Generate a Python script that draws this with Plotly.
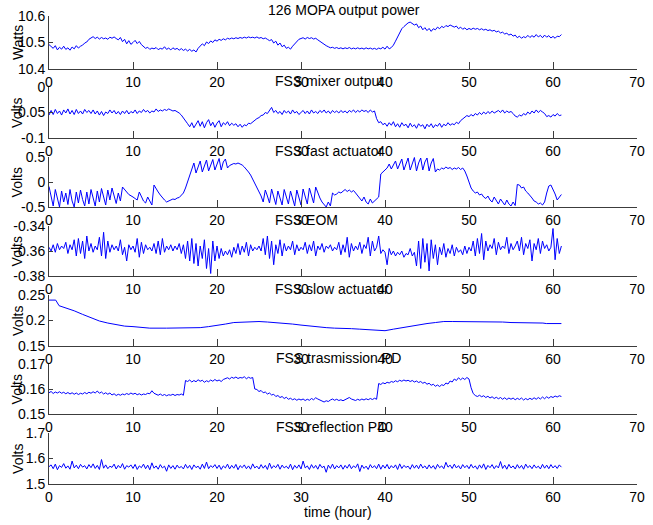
import plotly.graph_objects as go

# Logged channels, sampled every STEP hours starting at t = 0
STEP = 0.25

MOPA_W = [
    10.492, 10.485, 10.478, 10.488, 10.472, 10.482, 10.475, 10.486, 10.474, 10.480, 10.471, 10.483, 10.476, 10.488, 10.479, 10.486, 10.490, 10.498, 10.502, 10.512,
    10.518, 10.522, 10.515, 10.520, 10.513, 10.519, 10.514, 10.517, 10.512, 10.520, 10.516, 10.521, 10.515, 10.510, 10.519, 10.503, 10.512, 10.495, 10.507, 10.493,
    10.500, 10.508, 10.496, 10.504, 10.492, 10.486, 10.478, 10.482, 10.474, 10.479, 10.476, 10.481, 10.473, 10.478, 10.475, 10.484, 10.474, 10.479, 10.472, 10.480,
    10.474, 10.478, 10.471, 10.477, 10.470, 10.475, 10.468, 10.474, 10.467, 10.472, 10.464, 10.478, 10.486, 10.495, 10.488, 10.502, 10.496, 10.506, 10.500, 10.510,
    10.505, 10.512, 10.508, 10.514, 10.510, 10.516, 10.513, 10.517, 10.514, 10.518, 10.515, 10.519, 10.516, 10.520, 10.517, 10.521, 10.518, 10.520, 10.517, 10.521,
    10.516, 10.519, 10.514, 10.517, 10.512, 10.507, 10.511, 10.498, 10.505, 10.490, 10.498, 10.484, 10.490, 10.478, 10.482, 10.475, 10.486, 10.495, 10.506, 10.512,
    10.515, 10.518, 10.513, 10.519, 10.515, 10.518, 10.513, 10.516, 10.510, 10.504, 10.498, 10.492, 10.488, 10.484, 10.480, 10.482, 10.478, 10.481, 10.477, 10.480,
    10.476, 10.480, 10.477, 10.481, 10.476, 10.479, 10.476, 10.480, 10.476, 10.479, 10.475, 10.480, 10.476, 10.479, 10.475, 10.478, 10.474, 10.479, 10.476, 10.482,
    10.475, 10.486, 10.476, 10.481, 10.490, 10.505, 10.522, 10.540, 10.552, 10.560, 10.568, 10.574, 10.577, 10.572, 10.566, 10.570, 10.556, 10.562, 10.548, 10.556,
    10.545, 10.553, 10.542, 10.552, 10.548, 10.558, 10.552, 10.561, 10.556, 10.564, 10.560, 10.566, 10.563, 10.558, 10.562, 10.552, 10.558, 10.550, 10.555, 10.548,
    10.553, 10.549, 10.554, 10.550, 10.553, 10.548, 10.552, 10.547, 10.550, 10.545, 10.548, 10.543, 10.546, 10.540, 10.543, 10.536, 10.539, 10.532, 10.535, 10.528,
    10.532, 10.524, 10.528, 10.518, 10.524, 10.516, 10.522, 10.518, 10.527, 10.519, 10.526, 10.520, 10.530, 10.521, 10.527, 10.518, 10.528, 10.520, 10.526, 10.517,
    10.523, 10.516, 10.524, 10.522, 10.530,
]

MIXER_V = [
    -0.055, -0.046, -0.054, -0.044, -0.052, -0.047, -0.055, -0.045, -0.051, -0.043, -0.053, -0.046, -0.054, -0.044, -0.052, -0.047, -0.053, -0.044, -0.050, -0.046,
    -0.052, -0.045, -0.053, -0.047, -0.055, -0.048, -0.056, -0.049, -0.052, -0.045, -0.051, -0.046, -0.053, -0.048, -0.054, -0.047, -0.052, -0.046, -0.053, -0.048,
    -0.051, -0.045, -0.052, -0.047, -0.050, -0.044, -0.049, -0.046, -0.051, -0.047, -0.049, -0.043, -0.048, -0.045, -0.047, -0.044, -0.046, -0.043, -0.045, -0.047,
    -0.046, -0.048, -0.051, -0.055, -0.060, -0.066, -0.072, -0.078, -0.070, -0.080, -0.072, -0.066, -0.077, -0.068, -0.080, -0.070, -0.064, -0.076, -0.069, -0.079,
    -0.071, -0.066, -0.078, -0.070, -0.074, -0.068, -0.076, -0.071, -0.075, -0.072, -0.078, -0.073, -0.079, -0.074, -0.076, -0.071, -0.072, -0.068, -0.066, -0.062,
    -0.060, -0.056, -0.055, -0.050, -0.052, -0.045, -0.040, -0.050, -0.046, -0.052, -0.048, -0.054, -0.046, -0.051, -0.047, -0.053, -0.045, -0.051, -0.048, -0.054,
    -0.050, -0.046, -0.052, -0.047, -0.053, -0.045, -0.051, -0.048, -0.052, -0.046, -0.050, -0.045, -0.051, -0.047, -0.052, -0.046, -0.050, -0.047, -0.051, -0.046,
    -0.050, -0.047, -0.051, -0.046, -0.049, -0.045, -0.050, -0.046, -0.049, -0.045, -0.048, -0.046, -0.050, -0.045, -0.049, -0.047, -0.062, -0.070, -0.068, -0.074,
    -0.071, -0.077, -0.070, -0.075, -0.068, -0.078, -0.072, -0.079, -0.070, -0.076, -0.073, -0.080, -0.071, -0.078, -0.074, -0.081, -0.072, -0.077, -0.074, -0.082,
    -0.073, -0.078, -0.072, -0.080, -0.074, -0.077, -0.071, -0.079, -0.073, -0.076, -0.070, -0.075, -0.072, -0.074, -0.069, -0.072, -0.066, -0.063, -0.060, -0.056,
    -0.058, -0.054, -0.057, -0.052, -0.055, -0.050, -0.054, -0.049, -0.053, -0.048, -0.052, -0.047, -0.051, -0.049, -0.046, -0.050, -0.045, -0.051, -0.047, -0.050,
    -0.048, -0.052, -0.057, -0.059, -0.055, -0.057, -0.052, -0.055, -0.049, -0.053, -0.047, -0.051, -0.045, -0.050, -0.046, -0.049, -0.052, -0.058, -0.056, -0.059,
    -0.054, -0.057, -0.052, -0.056, -0.055,
]

FAST_V = [
    -0.09, -0.30, -0.48, -0.15, -0.35, -0.50, -0.18, -0.40, -0.22, -0.45, -0.15, -0.38, -0.50, -0.20, -0.42, -0.16, -0.35, -0.48, -0.20, -0.44,
    -0.15, -0.35, -0.48, -0.18, -0.40, -0.13, -0.30, -0.46, -0.16, -0.36, -0.12, -0.28, -0.43, -0.22, -0.38, -0.10, -0.16, -0.20, -0.25, -0.27,
    -0.30, -0.33, -0.36, -0.20, -0.30, -0.38, -0.42, -0.30, -0.38, -0.46, -0.06, -0.14, -0.20, -0.26, -0.32, -0.36, -0.40, -0.38, -0.36, -0.34,
    -0.35, -0.32, -0.31, -0.27, -0.22, -0.12, 0.00, 0.12, 0.25, 0.38, 0.18, 0.30, 0.42, 0.20, 0.34, 0.44, 0.22, 0.36, 0.45, 0.24,
    0.38, 0.47, 0.24, 0.40, 0.46, 0.28, 0.33, 0.35, 0.37, 0.36, 0.38, 0.36, 0.34, 0.30, 0.26, 0.20, 0.14, 0.06, -0.02, -0.10,
    -0.18, -0.28, -0.40, -0.16, -0.28, -0.42, -0.14, -0.30, -0.45, -0.18, -0.32, -0.46, -0.15, -0.30, -0.44, -0.18, -0.34, -0.48, -0.16, -0.32,
    -0.46, -0.14, -0.30, -0.44, -0.12, -0.28, -0.42, -0.10, -0.22, -0.32, -0.40, -0.46, -0.50, -0.40, -0.48, -0.22, -0.26, -0.24, -0.20, -0.22,
    -0.18, -0.15, -0.19, -0.16, -0.20, -0.17, -0.22, -0.28, -0.33, -0.38, -0.30, -0.40, -0.44, -0.34, -0.42, -0.38, -0.36, -0.30, 0.16, 0.20,
    0.22, 0.28, 0.36, 0.26, 0.34, 0.42, 0.26, 0.36, 0.46, 0.24, 0.38, 0.48, 0.24, 0.38, 0.49, 0.22, 0.38, 0.48, 0.24, 0.40,
    0.48, 0.22, 0.38, 0.47, 0.20, 0.26, 0.24, 0.28, 0.26, 0.30, 0.27, 0.29, 0.25, 0.28, 0.26, 0.29, 0.25, 0.28, 0.22, 0.12,
    0.00, -0.12, -0.18, -0.22, -0.20, -0.26, -0.24, -0.30, -0.33, -0.28, -0.36, -0.40, -0.30, -0.38, -0.44, -0.34, -0.40, -0.46, -0.36, -0.44,
    -0.48, -0.40, -0.47, -0.05, -0.06, -0.12, -0.10, -0.18, -0.22, -0.26, -0.32, -0.38, -0.40, -0.44, -0.42, -0.46, -0.40, -0.22, -0.08, -0.06,
    -0.14, -0.24, -0.36, -0.30, -0.25,
]

EOM_V = [
    -0.357, -0.360, -0.355, -0.361, -0.354, -0.359, -0.356, -0.358, -0.353, -0.362, -0.355, -0.359, -0.351, -0.364, -0.350, -0.362, -0.352, -0.366, -0.348, -0.360,
    -0.354, -0.361, -0.356, -0.359, -0.349, -0.364, -0.345, -0.366, -0.352, -0.361, -0.355, -0.359, -0.356, -0.360, -0.351, -0.363, -0.357, -0.368, -0.355, -0.359,
    -0.356, -0.361, -0.350, -0.365, -0.353, -0.362, -0.355, -0.359, -0.357, -0.360, -0.354, -0.362, -0.352, -0.363, -0.350, -0.361, -0.356, -0.359, -0.355, -0.360,
    -0.356, -0.359, -0.354, -0.362, -0.355, -0.366, -0.352, -0.368, -0.350, -0.370, -0.354, -0.372, -0.356, -0.366, -0.351, -0.374, -0.358, -0.378, -0.352, -0.368,
    -0.356, -0.366, -0.358, -0.364, -0.360, -0.363, -0.359, -0.365, -0.357, -0.362, -0.354, -0.363, -0.356, -0.361, -0.353, -0.364, -0.355, -0.360, -0.357, -0.359,
    -0.356, -0.360, -0.350, -0.363, -0.348, -0.366, -0.352, -0.371, -0.355, -0.362, -0.351, -0.364, -0.354, -0.360, -0.356, -0.359, -0.352, -0.363, -0.355, -0.360,
    -0.357, -0.359, -0.353, -0.362, -0.355, -0.360, -0.352, -0.364, -0.356, -0.359, -0.354, -0.361, -0.356, -0.358, -0.355, -0.360, -0.357, -0.359, -0.353, -0.363,
    -0.355, -0.361, -0.349, -0.365, -0.354, -0.360, -0.356, -0.359, -0.353, -0.362, -0.355, -0.358, -0.349, -0.364, -0.352, -0.360, -0.357, -0.348, -0.362, -0.359,
    -0.361, -0.371, -0.358, -0.363, -0.360, -0.364, -0.361, -0.363, -0.360, -0.365, -0.362, -0.363, -0.358, -0.364, -0.361, -0.372, -0.352, -0.374, -0.350, -0.369,
    -0.354, -0.376, -0.351, -0.366, -0.355, -0.371, -0.357, -0.363, -0.354, -0.365, -0.358, -0.362, -0.355, -0.364, -0.357, -0.361, -0.359, -0.363, -0.356, -0.362,
    -0.357, -0.360, -0.352, -0.364, -0.350, -0.362, -0.346, -0.367, -0.352, -0.360, -0.355, -0.358, -0.350, -0.363, -0.353, -0.359, -0.356, -0.358, -0.349, -0.362,
    -0.354, -0.359, -0.356, -0.352, -0.360, -0.349, -0.363, -0.354, -0.358, -0.351, -0.368, -0.354, -0.359, -0.350, -0.362, -0.352, -0.358, -0.355, -0.360, -0.357,
    -0.342, -0.367, -0.350, -0.362, -0.356,
]

# Slow actuator is smooth, so it is logged at irregular hours
SLOW_HOURS = [
    0, 0.8, 1.2, 2, 3, 4, 5, 6, 7, 8, 9, 10, 11, 12, 14, 16, 17, 18, 19, 20,
    21, 22, 23, 24, 25, 26, 27, 28, 29, 30, 31, 32, 33, 34, 35, 36, 37, 38, 39, 40,
    41, 42, 43, 44, 45, 46, 47, 48, 50, 52, 53, 54, 55, 56, 57, 58, 58.8, 59.2, 60, 61,
]
SLOW_V = [
    0.240, 0.240, 0.229, 0.225, 0.219, 0.212, 0.205, 0.199, 0.195, 0.192, 0.189, 0.188, 0.186, 0.185, 0.185, 0.185, 0.185, 0.186, 0.188, 0.190,
    0.193, 0.196, 0.197, 0.198, 0.198, 0.197, 0.196, 0.195, 0.193, 0.191, 0.189, 0.188, 0.186, 0.185, 0.185, 0.184, 0.183, 0.182, 0.180, 0.180,
    0.183, 0.186, 0.189, 0.192, 0.194, 0.196, 0.198, 0.198, 0.198, 0.198, 0.198, 0.197, 0.196, 0.196, 0.196, 0.195, 0.195, 0.194, 0.194, 0.194,
]

TRANS_V = [
    0.1585, 0.1590, 0.1582, 0.1588, 0.1584, 0.1589, 0.1583, 0.1587, 0.1581, 0.1586, 0.1580, 0.1585, 0.1579, 0.1584, 0.1578, 0.1583, 0.1580, 0.1586, 0.1581, 0.1587,
    0.1583, 0.1589, 0.1584, 0.1592, 0.1583, 0.1588, 0.1580, 0.1585, 0.1579, 0.1584, 0.1576, 0.1581, 0.1574, 0.1579, 0.1575, 0.1580, 0.1577, 0.1582, 0.1578, 0.1584,
    0.1579, 0.1583, 0.1577, 0.1581, 0.1576, 0.1580, 0.1578, 0.1583, 0.1581, 0.1593, 0.1583, 0.1579, 0.1575, 0.1580, 0.1574, 0.1578, 0.1573, 0.1577, 0.1575, 0.1579,
    0.1574, 0.1578, 0.1576, 0.1580, 0.1575, 0.1634, 0.1630, 0.1636, 0.1628, 0.1634, 0.1629, 0.1637, 0.1631, 0.1635, 0.1627, 0.1633, 0.1629, 0.1636, 0.1631, 0.1638,
    0.1632, 0.1636, 0.1630, 0.1638, 0.1641, 0.1645, 0.1640, 0.1647, 0.1643, 0.1648, 0.1642, 0.1646, 0.1644, 0.1649, 0.1641, 0.1647, 0.1643, 0.1646, 0.1600, 0.1598,
    0.1590, 0.1594, 0.1585, 0.1588, 0.1580, 0.1584, 0.1576, 0.1579, 0.1570, 0.1574, 0.1566, 0.1570, 0.1562, 0.1567, 0.1559, 0.1563, 0.1557, 0.1561, 0.1555, 0.1560,
    0.1556, 0.1560, 0.1554, 0.1559, 0.1555, 0.1562, 0.1557, 0.1565, 0.1560, 0.1556, 0.1552, 0.1548, 0.1553, 0.1550, 0.1556, 0.1560, 0.1555, 0.1559, 0.1554, 0.1557,
    0.1553, 0.1558, 0.1562, 0.1566, 0.1560, 0.1556, 0.1554, 0.1559, 0.1555, 0.1560, 0.1556, 0.1561, 0.1557, 0.1562, 0.1558, 0.1563, 0.1559, 0.1622, 0.1618, 0.1625,
    0.1621, 0.1627, 0.1624, 0.1630, 0.1627, 0.1633, 0.1629, 0.1635, 0.1631, 0.1636, 0.1632, 0.1635, 0.1630, 0.1634, 0.1628, 0.1632, 0.1626, 0.1630, 0.1623, 0.1627,
    0.1619, 0.1623, 0.1615, 0.1619, 0.1611, 0.1616, 0.1610, 0.1617, 0.1614, 0.1624, 0.1620, 0.1632, 0.1628, 0.1640, 0.1634, 0.1645, 0.1637, 0.1644, 0.1638, 0.1646,
    0.1640, 0.1605, 0.1582, 0.1574, 0.1570, 0.1575, 0.1569, 0.1573, 0.1566, 0.1571, 0.1564, 0.1569, 0.1562, 0.1567, 0.1561, 0.1566, 0.1559, 0.1565, 0.1558, 0.1564,
    0.1559, 0.1564, 0.1557, 0.1563, 0.1558, 0.1564, 0.1556, 0.1562, 0.1557, 0.1563, 0.1558, 0.1565, 0.1559, 0.1566, 0.1560, 0.1568, 0.1561, 0.1569, 0.1563, 0.1570,
    0.1566, 0.1572, 0.1568, 0.1573, 0.1570,
]

REFL_V = [
    1.568, 1.575, 1.560, 1.578, 1.556, 1.572, 1.565, 1.580, 1.562, 1.571, 1.558, 1.590, 1.563, 1.574, 1.560, 1.577, 1.566, 1.572, 1.559, 1.576,
    1.564, 1.579, 1.561, 1.573, 1.557, 1.596, 1.562, 1.575, 1.560, 1.570, 1.565, 1.578, 1.559, 1.573, 1.563, 1.580, 1.558, 1.572, 1.566, 1.575,
    1.561, 1.577, 1.557, 1.571, 1.564, 1.578, 1.560, 1.574, 1.556, 1.583, 1.562, 1.571, 1.558, 1.576, 1.563, 1.570, 1.550, 1.575, 1.561, 1.572,
    1.558, 1.574, 1.563, 1.569, 1.559, 1.577, 1.562, 1.573, 1.557, 1.575, 1.564, 1.570, 1.558, 1.578, 1.561, 1.586, 1.560, 1.572, 1.565, 1.576,
    1.561, 1.574, 1.557, 1.571, 1.563, 1.578, 1.559, 1.573, 1.562, 1.577, 1.556, 1.572, 1.564, 1.575, 1.560, 1.571, 1.558, 1.579, 1.563, 1.570,
    1.559, 1.576, 1.562, 1.573, 1.557, 1.582, 1.561, 1.572, 1.564, 1.577, 1.558, 1.574, 1.563, 1.570, 1.560, 1.578, 1.556, 1.573, 1.562, 1.575,
    1.559, 1.590, 1.563, 1.571, 1.557, 1.576, 1.562, 1.573, 1.558, 1.577, 1.564, 1.570, 1.546, 1.574, 1.561, 1.578, 1.559, 1.572, 1.563, 1.575,
    1.558, 1.573, 1.562, 1.577, 1.560, 1.571, 1.564, 1.579, 1.549, 1.574, 1.561, 1.570, 1.557, 1.576, 1.563, 1.572, 1.560, 1.578, 1.558, 1.574,
    1.562, 1.577, 1.559, 1.572, 1.563, 1.575, 1.557, 1.579, 1.561, 1.573, 1.565, 1.570, 1.558, 1.576, 1.562, 1.574, 1.560, 1.578, 1.563, 1.571,
    1.559, 1.575, 1.562, 1.572, 1.558, 1.577, 1.564, 1.571, 1.560, 1.585, 1.566, 1.574, 1.561, 1.578, 1.563, 1.572, 1.559, 1.576, 1.564, 1.573,
    1.560, 1.577, 1.563, 1.571, 1.558, 1.575, 1.562, 1.579, 1.557, 1.573, 1.564, 1.576, 1.560, 1.572, 1.563, 1.588, 1.561, 1.574, 1.558, 1.577,
    1.563, 1.571, 1.559, 1.576, 1.562, 1.573, 1.558, 1.578, 1.564, 1.572, 1.560, 1.575, 1.563, 1.570, 1.559, 1.577, 1.562, 1.574, 1.560, 1.576,
    1.563, 1.572, 1.561, 1.575, 1.566,
]

TITLES = [
    "126 MOPA output power", "FSS mixer output", "FSS fast actuator", "FSS EOM",
    "FSS slow actuator", "FSS trasmission PD", "FSS reflection PD",
]
Y_LABELS = ["Watts", "Volts", "Volts", "Volts", "Volts", "Volts", "Volts"]
Y_RANGES = [(10.4, 10.6), (-0.1, 0), (-0.5, 0.5), (-0.38, -0.34), (0.15, 0.25), (0.15, 0.17), (1.5, 1.7)]
Y_TICKS = [
    ["10.4", "10.5", "10.6"], ["-0.1", "-0.05", "0"], ["-0.5", "0", "0.5"],
    ["-0.38", "-0.36", "-0.34"], ["0.15", "0.2", "0.25"], ["0.15", "0.16", "0.17"],
    ["1.5", "1.6", "1.7"],
]
X_TICKS = [0, 10, 20, 30, 40, 50, 60, 70]
X_LABEL = "time (hour)"


def sample_hours(values):
    return [i * STEP for i in range(len(values))]


SERIES = [
    (sample_hours(MOPA_W), MOPA_W),
    (sample_hours(MIXER_V), MIXER_V),
    (sample_hours(FAST_V), FAST_V),
    (sample_hours(EOM_V), EOM_V),
    (SLOW_HOURS, SLOW_V),
    (sample_hours(TRANS_V), TRANS_V),
    (sample_hours(REFL_V), REFL_V),
]

# Figure geometry (pixels)
W, H = 653, 525
M_L, M_R, M_T, M_B = 49, 8, 16, 41
PLOT_W = W - M_L - M_R
PLOT_H = H - M_T - M_B
PANEL_PX = [(16, 69), (87, 138), (157, 207), (226, 276), (295, 346), (364, 414), (433, 484)]
# left edge of each panel title, pixels from the left of the page
TITLE_LEFT_PX = [269, 276, 276, 276, 276, 277, 277]


def to_paper_y(px):
    return (H - M_B - px) / PLOT_H


def to_paper_x(px):
    return (px - M_L) / PLOT_W


FONT = dict(family="Liberation Sans, Arial, sans-serif", size=14, color="black")
AXIS_COLOR = "#3c3c3c"

fig = go.Figure()
layout = dict(
    width=W, height=H, autosize=False,
    margin=dict(l=M_L, r=M_R, t=M_T, b=M_B, pad=0),
    paper_bgcolor="white", plot_bgcolor="white",
    showlegend=False, font=FONT,
)
annotations = []

for i, ((hx, vy), title, ylab, yr, yt) in enumerate(zip(SERIES, TITLES, Y_LABELS, Y_RANGES, Y_TICKS)):
    n = i + 1
    xa = "xaxis" if n == 1 else f"xaxis{n}"
    ya = "yaxis" if n == 1 else f"yaxis{n}"
    xref = "x" if n == 1 else f"x{n}"
    yref = "y" if n == 1 else f"y{n}"
    top, bot = PANEL_PX[i]
    dom = [to_paper_y(bot), to_paper_y(top)]

    fig.add_trace(go.Scatter(
        x=hx, y=vy, xaxis=xref, yaxis=yref, mode="lines",
        line=dict(color="#0000ff", width=1), hoverinfo="skip",
    ))

    layout[xa] = dict(
        domain=[0, 1], anchor=yref, range=[0, 70],
        tickmode="array", tickvals=X_TICKS, ticktext=[str(v) for v in X_TICKS],
        ticks="inside", ticklen=7, tickwidth=1, tickcolor=AXIS_COLOR,
        showline=True, linecolor=AXIS_COLOR, linewidth=1,
        showgrid=False, zeroline=False, tickfont=FONT,
    )
    lo, hi = yr
    mid = (lo + hi) / 2
    layout[ya] = dict(
        domain=dom, anchor=xref, range=[lo, hi],
        tickmode="array", tickvals=[lo, mid, hi], ticktext=yt,
        ticks="inside", ticklen=4, tickwidth=1, tickcolor=AXIS_COLOR,
        showline=True, linecolor=AXIS_COLOR, linewidth=1,
        showgrid=False, zeroline=False, tickfont=FONT,
    )

    annotations.append(dict(
        text=title, xref="paper", yref="paper", x=to_paper_x(TITLE_LEFT_PX[i]), y=dom[1],
        xanchor="left", yanchor="bottom", yshift=-4, showarrow=False, font=FONT,
    ))
    annotations.append(dict(
        text=ylab, xref="paper", yref="paper", x=to_paper_x(17),
        y=(dom[0] + dom[1]) / 2, xanchor="center", yanchor="middle",
        textangle=-90, showarrow=False, font=FONT,
    ))

annotations.append(dict(
    text=X_LABEL, xref="paper", yref="paper", x=to_paper_x(342), y=to_paper_y(512),
    xanchor="center", yanchor="middle", showarrow=False, font=FONT,
))
layout["annotations"] = annotations

fig.update_layout(**layout)
fig.write_html("out.html")
